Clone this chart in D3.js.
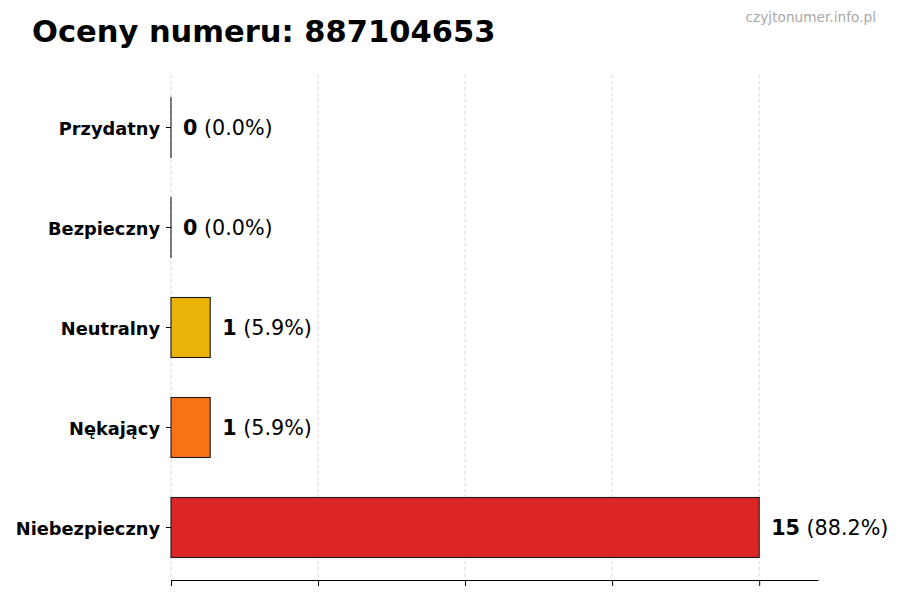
<!DOCTYPE html>
<html>
<head>
<meta charset="utf-8">
<script src="https://cdn.jsdelivr.net/npm/d3@7"></script>
<style>
  body { margin: 0; background: #fff; }
  svg { display: block; font-family: "DejaVu Sans", sans-serif; }
</style>
</head>
<body>
<svg id="chart" width="900" height="600"></svg>
<script>
const categories = ['Przydatny', 'Bezpieczny', 'Neutralny', 'Nękający', 'Niebezpieczny'];
const counts = [0, 0, 1, 1, 15];
const barColors = ['#22c55e', '#3b82f6', '#eab308', '#f97316', '#dc2626'];
const xTicks = [0, 3.75, 7.5, 11.25, 15];

const WIDTH = 900, HEIGHT = 600;
const MARGINS = { top: 75, bottom: 20, left: 171, right: 82 };
const total = d3.sum(counts);

const rows = categories.map((c, i) => ({ category: c, value: counts[i], color: barColors[i] }));

const svg = d3.select('#chart');

svg.append('rect')
    .attr('width', WIDTH)
    .attr('height', HEIGHT)
    .attr('fill', '#fff');

const xScale = d3.scaleLinear()
    .domain([0, d3.max(counts) * 1.1])
    .range([MARGINS.left, WIDTH - MARGINS.right]);

const yScale = d3.scaleBand()
    .domain(categories)
    .range([MARGINS.top, HEIGHT - MARGINS.bottom])
    .paddingInner(0.4)
    .paddingOuter(0.225);

// grid lines
svg.selectAll('line.grid')
    .data(xTicks)
    .join('line')
        .attr('class', 'grid')
        .attr('x1', d => xScale(d))
        .attr('x2', d => xScale(d))
        .attr('y1', MARGINS.top)
        .attr('y2', HEIGHT - MARGINS.bottom)
        .attr('stroke', '#cfcfcf')
        .attr('stroke-width', 0.8)
        .attr('stroke-dasharray', '3.5,2.5');

// bars (zero bars still get their outline, like the original)
svg.selectAll('rect.bar')
    .data(rows)
    .join('rect')
        .attr('class', 'bar')
        .attr('x', xScale(0))
        .attr('y', d => yScale(d.category))
        .attr('width', d => Math.max(xScale(d.value) - xScale(0), 0.01))
        .attr('height', yScale.bandwidth())
        .attr('fill', d => d.color)
        .attr('stroke', '#1a1a1a')
        .attr('stroke-width', 1.1);

// x axis (no labels)
svg.append('g')
    .attr('transform', `translate(0, ${HEIGHT - MARGINS.bottom})`)
    .call(d3.axisBottom(xScale).tickValues(xTicks).tickSize(6).tickFormat('').tickSizeOuter(0))
    .call(g => g.select('.domain').attr('stroke', '#000').attr('stroke-width', 1.1))
    .call(g => g.selectAll('.tick line').attr('stroke', '#000'));

// y axis
const yAxis = svg.append('g')
    .attr('transform', `translate(${MARGINS.left}, 0)`)
    .call(d3.axisLeft(yScale).tickSize(5).tickPadding(6).tickSizeOuter(0));
yAxis.select('.domain').remove();
yAxis.selectAll('.tick line').attr('stroke', '#000');
yAxis.selectAll('.tick text')
    .attr('font-family', '"DejaVu Sans", sans-serif')
    .attr('font-size', '17.8px')
    .attr('font-weight', 'bold')
    .attr('dy', '0.42em')
    .attr('fill', '#000');

// value labels
const labels = svg.selectAll('text.value-label')
    .data(rows)
    .join('text')
        .attr('class', 'value-label')
        .attr('x', d => xScale(d.value) + 12)
        .attr('y', d => yScale(d.category) + yScale.bandwidth() / 2)
        .attr('dy', '0.37em')
        .attr('font-size', '20.7px')
        .attr('fill', '#000');
labels.append('tspan')
    .attr('font-weight', 'bold')
    .text(d => d.value);
labels.append('tspan')
    .text(d => ` (${(d.value / total * 100).toFixed(1)}%)`);

// title
svg.append('text')
    .attr('x', 32)
    .attr('y', 42)
    .attr('font-size', '30.5px')
    .attr('font-weight', 'bold')
    .attr('fill', '#000')
    .text('Oceny numeru: 887104653');

// watermark
svg.append('text')
    .attr('x', 876)
    .attr('y', 22)
    .attr('text-anchor', 'end')
    .attr('font-size', '13.7px')
    .attr('fill', '#a8a8a8')
    .text('czyjtonumer.info.pl');
</script>
</body>
</html>
